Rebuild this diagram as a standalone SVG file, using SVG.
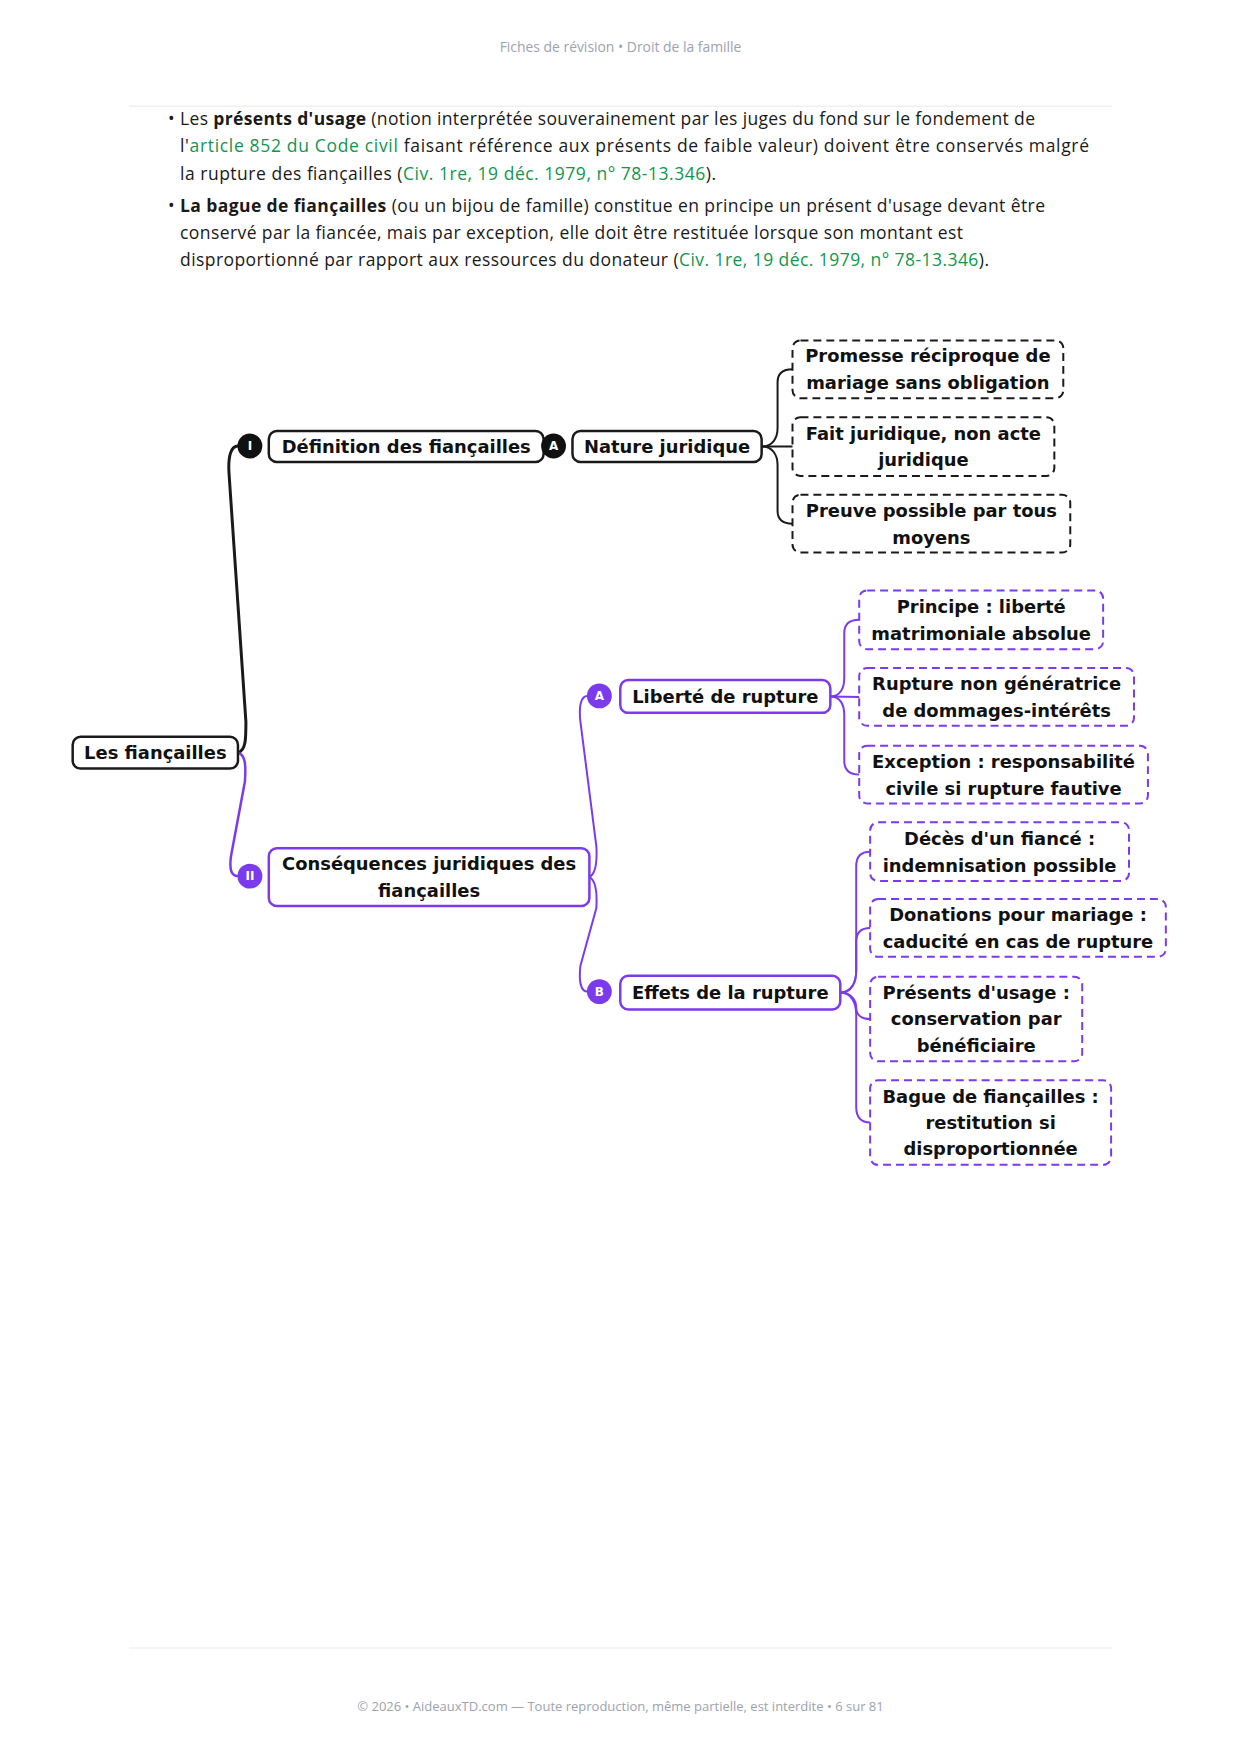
<svg xmlns="http://www.w3.org/2000/svg" width="1241" height="1754" viewBox="0 0 1241 1754">
<style>
.hdr{font-family:"Open Sans","Liberation Sans",sans-serif;font-size:13px;fill:#9ca3af}
.hdr2{font-size:13.9px}
.body{font-family:"Open Sans","Liberation Sans",sans-serif;font-size:17.5px;fill:#1a1a1a}
.b{font-weight:700}
.g{fill:#12964f}
.nt{font-family:"DejaVu Sans",sans-serif;font-weight:700;font-size:18px;fill:#111;text-anchor:middle;dominant-baseline:central}
.box{fill:#fff;stroke-width:2.5}
.leaf{fill:#fff;stroke-width:2;stroke-dasharray:8 5}
.k{stroke:#1a1a1a}
.p{stroke:#7c3aed}
.ck{fill:#111}
.cp{fill:#7c3aed}
.ct{font-family:"DejaVu Sans",sans-serif;font-weight:700;font-size:12px;fill:#fff;text-anchor:middle;dominant-baseline:central}
.ln{fill:none;stroke-linecap:round}
</style>
<rect width="1241" height="1754" fill="#fff"/>
<text class="hdr hdr2" x="620.5" y="51.5" text-anchor="middle">Fiches de révision • Droit de la famille</text>
<line x1="129" y1="106.3" x2="1112" y2="106.3" stroke="#efefef" stroke-width="1.5"/>
<line x1="129" y1="1648" x2="1112" y2="1648" stroke="#efefef" stroke-width="1.5"/>
<text class="hdr" x="620.5" y="1711" text-anchor="middle">© 2026 • AideauxTD.com — Toute reproduction, même partielle, est interdite • 6 sur 81</text>

<g id="text-body">
<text class="body" x="168" y="124.5">•</text>
<text class="body" x="180" y="124.5" textLength="855" lengthAdjust="spacing">Les <tspan class="b">présents d'usage</tspan> (notion interprétée souverainement par les juges du fond sur le fondement de</text>
<text class="body" x="180" y="152" textLength="909" lengthAdjust="spacing">l'<tspan class="g">article 852 du Code civil</tspan> faisant référence aux présents de faible valeur) doivent être conservés malgré</text>
<text class="body" x="180" y="179.5" textLength="536" lengthAdjust="spacing">la rupture des fiançailles (<tspan class="g">Civ. 1re, 19 déc. 1979, n° 78-13.346</tspan>).</text>
<text class="body" x="168" y="211.5">•</text>
<text class="body" x="180" y="211.5" textLength="865" lengthAdjust="spacing"><tspan class="b">La bague de fiançailles</tspan> (ou un bijou de famille) constitue en principe un présent d'usage devant être</text>
<text class="body" x="180" y="238.5" textLength="783" lengthAdjust="spacing">conservé par la fiancée, mais par exception, elle doit être restituée lorsque son montant est</text>
<text class="body" x="180" y="265.5" textLength="809" lengthAdjust="spacing">disproportionné par rapport aux ressources du donateur (<tspan class="g">Civ. 1re, 19 déc. 1979, n° 78-13.346</tspan>).</text>
</g>

<g id="mindmap" transform="scale(0.9956)">
<g id="connectors">
<path class="ln k" stroke-width="3" d="M239,756 C247,754 247,742 247,725 L230,475 C229,458 232,448 239,448"/>
<path class="ln p" stroke-width="2.5" d="M239,756 C247,758 247,770 246,785 L232,860 C230,875 233,880 239,880"/>
<path class="ln k" stroke-width="2" d="M538,448 L544,448"/>
<path class="ln k" stroke-width="2" d="M765,448.5 C776,448.5 781,440 781,430 L781,384 C781,375 786,371 796,371"/>
<path class="ln k" stroke-width="2" d="M765,448.5 L796,448.5"/>
<path class="ln k" stroke-width="2" d="M765,448.5 C776,448.5 781,457 781,467 L781,513 C781,522 786,526 796,526"/>
<path class="ln p" stroke-width="2" d="M592,881 C598,878 600,868 599,850 L583,725 C581,708 584,699 590,699"/>
<path class="ln p" stroke-width="2" d="M592,881 C598,884 600,895 599,912 L583,970 C581,988 584,996 590,996"/>
<path class="ln p" stroke-width="2" d="M834,699.5 C844,699.5 848,691 848,681 L848,636 C848,627 853,622.5 863,622.5"/>
<path class="ln p" stroke-width="2" d="M834,699.5 L863,700"/>
<path class="ln p" stroke-width="2" d="M834,699.5 C844,699.5 848,708 848,718 L848,764 C848,773 853,778 863,778"/>
<path class="ln p" stroke-width="2" d="M844,997 C855,997 860,987 860,975 L860,870 C860,860 865,855.5 874,855.5"/>
<path class="ln p" stroke-width="2" d="M844,997 C855,997 860,987 860,975 L860,946 C860,936 865,932 874,932"/>
<path class="ln p" stroke-width="2" d="M844,997 C855,997 860,1005 860,1012 C860,1019 865,1023.5 874,1023.5"/>
<path class="ln p" stroke-width="2" d="M844,997 C855,997 860,1007 860,1019 L860,1112 C860,1122 865,1127.5 874,1127.5"/>
</g>

<g id="node-root">
<rect class="box k" x="73" y="740" width="166" height="32" rx="8"/>
<text class="nt" x="156" y="756">Les fiançailles</text>
</g>
<g id="node-I">
<circle class="ck" cx="251" cy="448" r="12.5"/>
<text class="ct" x="251" y="448">I</text>
</g>
<g id="node-definition">
<rect class="box k" x="270" y="433" width="276" height="31" rx="8"/>
<text class="nt" x="408" y="448.5">Définition des fiançailles</text>
</g>
<g id="node-IA">
<circle class="ck" cx="556" cy="448" r="12.5"/>
<text class="ct" x="556" y="448">A</text>
</g>
<g id="node-nature">
<rect class="box k" x="575" y="433" width="190" height="31" rx="8"/>
<text class="nt" x="670" y="448.5">Nature juridique</text>
</g>
<g id="leaf-promesse">
<rect class="leaf k" x="796" y="342" width="272" height="58" rx="8"/>
<text class="nt" x="932" y="357.5">Promesse réciproque de</text>
<text class="nt" x="932" y="384.5">mariage sans obligation</text>
</g>
<g id="leaf-fait">
<rect class="leaf k" x="796" y="419" width="263" height="59" rx="8"/>
<text class="nt" x="927.5" y="435">Fait juridique, non acte</text>
<text class="nt" x="927.5" y="462">juridique</text>
</g>
<g id="leaf-preuve">
<rect class="leaf k" x="796" y="497" width="279" height="58" rx="8"/>
<text class="nt" x="935.5" y="512.5">Preuve possible par tous</text>
<text class="nt" x="935.5" y="539.5">moyens</text>
</g>

<g id="node-II">
<circle class="cp" cx="251" cy="880" r="12.5"/>
<text class="ct" x="251" y="880">II</text>
</g>
<g id="node-consequences">
<rect class="box p" x="270" y="852" width="322" height="58" rx="8"/>
<text class="nt" x="431" y="867.5">Conséquences juridiques des</text>
<text class="nt" x="431" y="894.5">fiançailles</text>
</g>
<g id="node-IIA">
<circle class="cp" cx="602" cy="699" r="12.5"/>
<text class="ct" x="602" y="699">A</text>
</g>
<g id="node-liberte">
<rect class="box p" x="623" y="683" width="211" height="33" rx="8"/>
<text class="nt" x="728.5" y="699.5">Liberté de rupture</text>
</g>
<g id="node-IIB">
<circle class="cp" cx="602" cy="996" r="12.5"/>
<text class="ct" x="602" y="996">B</text>
</g>
<g id="node-effets">
<rect class="box p" x="623" y="980" width="221" height="34" rx="8"/>
<text class="nt" x="733.5" y="997">Effets de la rupture</text>
</g>

<g id="leaf-principe">
<rect class="leaf p" x="863" y="593" width="245" height="59" rx="8"/>
<text class="nt" x="985.5" y="609">Principe : liberté</text>
<text class="nt" x="985.5" y="636">matrimoniale absolue</text>
</g>
<g id="leaf-rupture">
<rect class="leaf p" x="863" y="671" width="276" height="58" rx="8"/>
<text class="nt" x="1001" y="686.5">Rupture non génératrice</text>
<text class="nt" x="1001" y="713.5">de dommages-intérêts</text>
</g>
<g id="leaf-exception">
<rect class="leaf p" x="863" y="749" width="290" height="58" rx="8"/>
<text class="nt" x="1008" y="764.5">Exception : responsabilité</text>
<text class="nt" x="1008" y="791.5">civile si rupture fautive</text>
</g>
<g id="leaf-deces">
<rect class="leaf p" x="874" y="826" width="260" height="59" rx="8"/>
<text class="nt" x="1004" y="842">Décès d'un fiancé :</text>
<text class="nt" x="1004" y="869">indemnisation possible</text>
</g>
<g id="leaf-donations">
<rect class="leaf p" x="874" y="903" width="297" height="58" rx="8"/>
<text class="nt" x="1022.5" y="918.5">Donations pour mariage :</text>
<text class="nt" x="1022.5" y="945.5">caducité en cas de rupture</text>
</g>
<g id="leaf-presents">
<rect class="leaf p" x="874" y="981" width="213" height="85" rx="8"/>
<text class="nt" x="980.5" y="997">Présents d'usage :</text>
<text class="nt" x="980.5" y="1023.5">conservation par</text>
<text class="nt" x="980.5" y="1050">bénéficiaire</text>
</g>
<g id="leaf-bague">
<rect class="leaf p" x="874" y="1085" width="242" height="85" rx="8"/>
<text class="nt" x="995" y="1101">Bague de fiançailles :</text>
<text class="nt" x="995" y="1127.5">restitution si</text>
<text class="nt" x="995" y="1154">disproportionnée</text>
</g>
</g>
</svg>
